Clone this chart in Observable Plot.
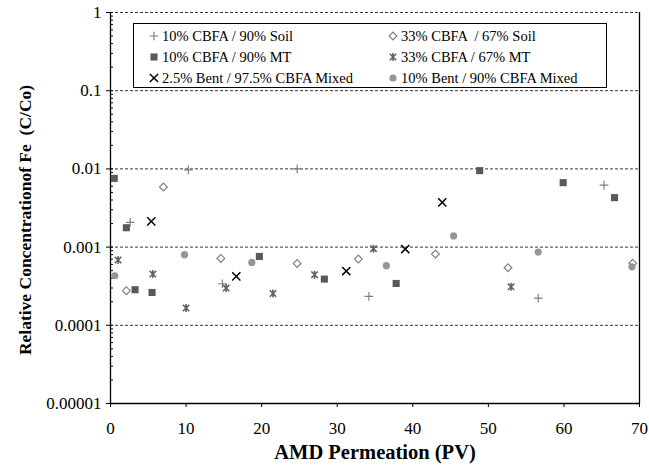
<!DOCTYPE html>
<html>
<head>
<meta charset="utf-8">
<script src="https://cdn.jsdelivr.net/npm/d3@7"></script>
<script src="https://cdn.jsdelivr.net/npm/@observablehq/plot@0.6"></script>
<style>
  html, body { margin: 0; padding: 0; background: #fff; }
  #wrap { position: relative; width: 649px; height: 466px; }
  #wrap svg, #wrap svg text { font-family: "Liberation Serif", "Times New Roman", serif !important; }
  #legend { position: absolute; left: 133px; top: 23px; width: 474px; height: 65px; border: 1px solid #000; background: #fff; box-sizing: border-box; font-family: "Liberation Serif", "Times New Roman", serif; font-size: 14.5px; color: #000; }
  .item { position: absolute; height: 18px; line-height: 18px; white-space: pre; }
  .item svg { position: absolute; left: -6px; top: 3px; overflow: visible; }
  .item span { position: absolute; left: 8px; top: 0; }
  g[aria-label="x-axis label"] text { font-weight: bold; font-size: 20.5px; white-space: pre; }
</style>
</head>
<body>
<div id="wrap">
  <div id="chart"></div>
  <div id="legend"></div>
</div>
<script>
// ---- data ----
const seriesNames = [
  "10% CBFA / 90% Soil",
  "33% CBFA  / 67% Soil",
  "10% CBFA / 90% MT",
  "33% CBFA / 67% MT",
  "2.5% Bent / 97.5% CBFA Mixed",
  "10% Bent / 90% CBFA Mixed"
];
const soil10X = [2.6, 10.3, 14.8, 24.7, 34.2, 56.6, 65.3];
const soil10Y = [0.00207, 0.0097, 0.00034, 0.0100, 0.000234, 0.000223, 0.0062];
const soil33X = [2.1, 7.0, 14.6, 24.7, 32.8, 43.0, 52.6, 69.1];
const soil33Y = [0.000277, 0.00588, 0.000716, 0.000618, 0.000703, 0.000815, 0.000545, 0.00062];
const mt10X = [0.5, 2.1, 3.25, 5.5, 19.7, 28.3, 37.8, 48.85, 59.9, 66.7];
const mt10Y = [0.00757, 0.00177, 0.000285, 0.000263, 0.00076, 0.00039, 0.000343, 0.0095, 0.00667, 0.00429];
const mt33X = [1.0, 5.6, 10.0, 15.3, 21.5, 27.0, 34.8, 53.0];
const mt33Y = [0.000683, 0.000452, 0.000166, 0.000299, 0.000255, 0.000443, 0.000954, 0.000311];
const bent25X = [5.4, 16.65, 31.2, 39.0, 43.9];
const bent25Y = [0.00213, 0.000422, 0.000494, 0.000944, 0.00373];
const bent10X = [0.57, 9.8, 18.7, 36.5, 45.4, 56.6, 69.0];
const bent10Y = [0.00043, 0.0008, 0.000637, 0.000578, 0.00139, 0.000865, 0.00056];

const xTicks = [0, 10, 20, 30, 40, 50, 60, 70];
const yTicks = [0.00001, 0.0001, 0.001, 0.01, 0.1, 1];
const yTickLabels = ["0.00001", "0.0001", "0.001", "0.01", "0.1", "1"];
const gridValues = [0.0001, 0.001, 0.01, 0.1, 1];
const xTitle = "AMD Permeation (PV)";
const yTitle = "Relative Concentrationof Fe  (C/Co)";

// minor log ticks
const minorTicks = [];
for (let e = -5; e < 0; e++) for (let m = 2; m <= 9; m++) minorTicks.push(m * Math.pow(10, e));

// custom star marker (x with a vertical bar)
const starSymbol = {
  draw(ctx, size) {
    const r = Math.sqrt(size / Math.PI);
    const d = r * 0.8;
    ctx.moveTo(0, -r); ctx.lineTo(0, r);
    ctx.moveTo(-d, -d); ctx.lineTo(d, d);
    ctx.moveTo(-d, d); ctx.lineTo(d, -d);
  }
};

const styles = [
  {symbol: "plus", fill: "none", stroke: "#808080", strokeWidth: 1.2, r: 2.9},
  {symbol: "diamond2", fill: "none", stroke: "#808080", strokeWidth: 1.2, r: 3.5},
  {symbol: "square", fill: "#595959", stroke: "none", r: 4},
  {symbol: starSymbol, fill: "none", stroke: "#606060", strokeWidth: 1.6, r: 4},
  {symbol: "times", fill: "none", stroke: "#000", strokeWidth: 1.5, r: 3.8},
  {symbol: "circle", fill: "#969696", stroke: "none", r: 3.6}
];
const xs = [soil10X, soil33X, mt10X, mt33X, bent25X, bent10X];
const ys = [soil10Y, soil33Y, mt10Y, mt33Y, bent25Y, bent10Y];
const tables = xs.map((xa, k) => xa.map((x, i) => ({x, y: ys[k][i]})));

const chart = Plot.plot({
  width: 649,
  height: 466,
  marginLeft: 110,
  marginRight: 10,
  marginTop: 12,
  marginBottom: 63,
  style: {fontFamily: "'Liberation Serif', serif", fontSize: "17px", color: "#000", background: "#fff", overflow: "visible"},
  x: {domain: [0, 70]},
  y: {type: "log", domain: [0.00001, 1]},
  marks: [
    Plot.ruleY(gridValues, {stroke: "#333", strokeDasharray: "3,2", strokeWidth: 1}),
    Plot.ruleX([0, 70], {stroke: "#000", strokeWidth: 1.3}),
    Plot.ruleY([0.00001], {stroke: "#000", strokeWidth: 1.3}),
    Plot.axisX({ticks: xTicks, tickSize: 4, tickPadding: 14, tickFormat: d => String(d),
      label: xTitle, labelAnchor: "center", labelArrow: "none", labelOffset: 55}),
    Plot.axisY({ticks: yTicks, tickSize: 4, tickPadding: 5,
      tickFormat: d => yTickLabels[yTicks.indexOf(d)], label: null}),
    Plot.axisY({ticks: yTicks, tickSize: 3, dx: 3, tickFormat: () => "", label: null}),
    Plot.axisY({ticks: minorTicks, tickSize: 3, dx: 3, tickFormat: () => "", label: null}),
    Plot.text([yTitle], {frameAnchor: "left", rotate: -90, dx: -85, dy: 12, text: d => d,
      fontSize: 17.5, fontWeight: "bold", fill: "#000", textAnchor: "middle", lineAnchor: "middle"}),
    ...tables.map((t, k) => Plot.dot(t, {x: "x", y: "y", ...styles[k]}))
  ]
});
document.getElementById("chart").appendChild(chart);

// legend (inside the plot frame, as in the reference)
const legend = d3.select("#legend");
const colLeft = [20, 259];
const symMap = {plus: d3.symbolPlus, diamond2: d3.symbolDiamond2, square: d3.symbolSquare, times: d3.symbolTimes, circle: d3.symbolCircle};
seriesNames.forEach((name, k) => {
  const row = Math.floor(k / 2), col = k % 2;
  const item = legend.append("div").attr("class", "item")
    .style("left", colLeft[col] + "px")
    .style("top", (3 + row * 21) + "px");
  const s = styles[k];
  const svg = item.append("svg").attr("width", 12).attr("height", 12).attr("viewBox", "-6 -6 12 12");
  const type = typeof s.symbol === "string" ? symMap[s.symbol] : s.symbol;
  svg.append("path")
    .attr("d", d3.symbol(type, s.r * s.r * Math.PI)())
    .attr("fill", s.fill).attr("stroke", s.stroke)
    .attr("stroke-width", s.strokeWidth || null);
  item.append("span").text(name);
});
</script>
</body>
</html>
